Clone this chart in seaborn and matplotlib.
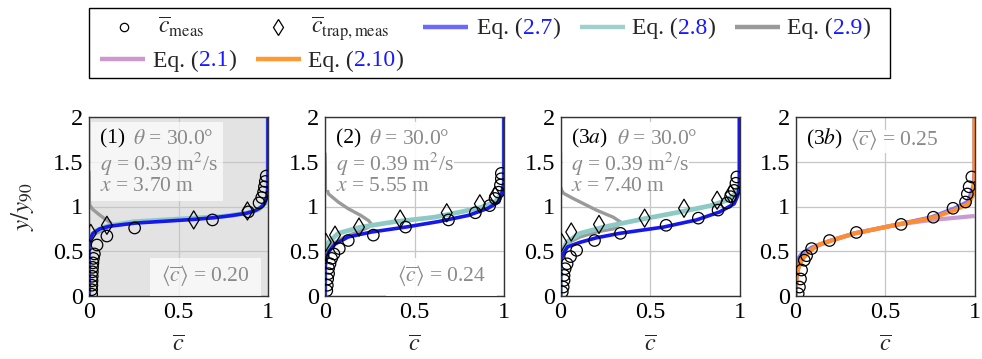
import matplotlib
matplotlib.use("Agg")
import matplotlib.pyplot as plt
import seaborn as sns
from matplotlib.patches import Rectangle
from matplotlib.lines import Line2D

# ---------------- data ----------------
X_TICKS = [0, 0.5, 1]
X_TICK_LABELS = ["0", "0.5", "1"]
Y_TICKS = [0, 0.5, 1, 1.5, 2]
Y_TICK_LABELS = ["0", "0.5", "1", "1.5", "2"]

PANEL_IDS = ["(1)", "(2)", "(3$a$)", "(3$b$)"]
THETA = ["30.0", "30.0", "30.0"]
Q = ["0.39", "0.39", "0.39"]
XPOS = ["3.70", "5.55", "7.40"]
C_MEAN = ["0.20", "0.24", None, "0.25"]

# panel 1
P1_BLUE_C = [0, 0, 0.005, 0.022, 0.06, 0.115, 0.26, 0.42, 0.58, 0.70, 0.80, 0.88, 0.93, 0.96, 0.98, 0.995, 1.0, 1.0]
P1_BLUE_Y = [0, 0.55, 0.63, 0.70, 0.75, 0.78, 0.815, 0.835, 0.855, 0.875, 0.90, 0.925, 0.955, 0.99, 1.03, 1.12, 1.25, 2.0]
P1_TEAL_C = [0, 0, 0.01, 0.04, 0.10, 0.25, 0.50, 0.75, 0.88, 0.95, 0.985, 1.0, 1.0]
P1_TEAL_Y = [0, 0.58, 0.66, 0.73, 0.78, 0.83, 0.86, 0.89, 0.925, 0.97, 1.04, 1.15, 2.0]
P1_GRAY_C = [0, 0.003, 0.02, 0.05, 0.09, 0.12, 0.128, 0.115, 0.08, 0.04, 0.015, 0]
P1_GRAY_Y = [1.4, 1.02, 0.97, 0.92, 0.86, 0.82, 0.80, 0.77, 0.74, 0.70, 0.66, 0.60]
P1_CIRC_C = [0.015, 0.015, 0.016, 0.017, 0.018, 0.019, 0.02, 0.022, 0.025, 0.03, 0.045, 0.10, 0.255, 0.69, 0.89, 0.95, 0.965, 0.975, 0.98, 0.985, 0.99]
P1_CIRC_Y = [0.02, 0.07, 0.12, 0.17, 0.22, 0.27, 0.32, 0.37, 0.42, 0.47, 0.57, 0.67, 0.76, 0.85, 0.94, 1.04, 1.10, 1.16, 1.22, 1.28, 1.34]
P1_DIAM_C = [0.01, 0.10, 0.585, 0.885]
P1_DIAM_Y = [0.70, 0.79, 0.85, 0.95]

# panel 2
P2_BLUE_C = [0, 0, 0.004, 0.019, 0.056, 0.13, 0.26, 0.45, 0.63, 0.80, 0.91, 0.97, 0.99, 1.0, 1.0]
P2_BLUE_Y = [0, 0.30, 0.38, 0.49, 0.58, 0.66, 0.715, 0.77, 0.83, 0.90, 0.98, 1.05, 1.16, 1.27, 2.0]
P2_TEAL_C = [0, 0, 0.02, 0.074, 0.20, 0.39, 0.61, 0.76, 0.87, 0.95, 0.985, 1.0, 1.0]
P2_TEAL_Y = [0, 0.45, 0.60, 0.70, 0.77, 0.83, 0.88, 0.94, 0.99, 1.05, 1.14, 1.24, 2.0]
P2_GRAY_C = [0, 0.004, 0.02, 0.074, 0.13, 0.20, 0.245, 0.26, 0.24, 0.20, 0.11, 0.04, 0]
P2_GRAY_Y = [1.6, 1.24, 1.14, 1.05, 0.975, 0.90, 0.84, 0.80, 0.765, 0.73, 0.66, 0.58, 0.49]
P2_CIRC_C = [0.01, 0.013, 0.015, 0.02, 0.02, 0.028, 0.037, 0.05, 0.08, 0.13, 0.27, 0.45, 0.69, 0.84, 0.92, 0.95, 0.97, 0.98, 0.985, 0.985]
P2_CIRC_Y = [0.06, 0.12, 0.19, 0.25, 0.31, 0.36, 0.42, 0.47, 0.53, 0.62, 0.68, 0.77, 0.85, 0.93, 1.01, 1.09, 1.16, 1.24, 1.31, 1.37]
P2_DIAM_C = [0.004, 0.056, 0.19, 0.42, 0.68, 0.865, 0.95]
P2_DIAM_Y = [0.60, 0.68, 0.77, 0.86, 0.93, 1.03, 1.12]

# panel 3
P3_BLUE_C = [0, 0, 0.015, 0.04, 0.11, 0.20, 0.33, 0.575, 0.76, 0.89, 0.97, 0.99, 1.0, 1.0]
P3_BLUE_Y = [0, 0.38, 0.47, 0.55, 0.60, 0.65, 0.70, 0.77, 0.85, 0.94, 1.03, 1.12, 1.24, 2.0]
P3_TEAL_C = [0, 0, 0.034, 0.11, 0.24, 0.46, 0.67, 0.84, 0.93, 0.975, 1.0, 1.0]
P3_TEAL_Y = [0, 0.45, 0.60, 0.70, 0.77, 0.86, 0.94, 1.01, 1.07, 1.14, 1.24, 2.0]
P3_GRAY_C = [0, 0.0, 0.015, 0.07, 0.20, 0.295, 0.34, 0.295, 0.20, 0.11, 0.034, 0]
P3_GRAY_Y = [1.6, 1.22, 1.15, 1.09, 0.96, 0.88, 0.82, 0.75, 0.715, 0.66, 0.585, 0.49]
P3_CIRC_C = [0.01, 0.015, 0.02, 0.02, 0.026, 0.037, 0.056, 0.09, 0.19, 0.335, 0.59, 0.77, 0.88, 0.93, 0.95, 0.97, 0.98, 0.985]
P3_CIRC_Y = [0.045, 0.10, 0.175, 0.23, 0.305, 0.36, 0.44, 0.51, 0.62, 0.70, 0.79, 0.87, 0.96, 1.04, 1.11, 1.18, 1.26, 1.33]
P3_DIAM_C = [0.005, 0.06, 0.215, 0.47, 0.69, 0.875, 0.95]
P3_DIAM_Y = [0.60, 0.715, 0.80, 0.87, 0.98, 1.07, 1.14]

# panel 4
P4_BLUE_C = [0, 0, 0.01, 0.034, 0.09, 0.20, 0.33, 0.575, 0.76, 0.89, 0.96, 0.98, 0.995, 1.0, 1.0]
P4_BLUE_Y = [0, 0.30, 0.40, 0.47, 0.54, 0.62, 0.70, 0.80, 0.88, 0.98, 1.05, 1.14, 1.24, 1.39, 2.0]
P4_PURP_C = [0, 0.006, 0.015, 0.034, 0.07, 0.127, 0.20, 0.33, 0.575, 0.76, 0.90, 1.0]
P4_PURP_Y = [0.0, 0.19, 0.305, 0.40, 0.49, 0.57, 0.62, 0.70, 0.80, 0.85, 0.875, 0.894]
P4_ORNG_C = [0, 0.006, 0.015, 0.034, 0.07, 0.127, 0.20, 0.33, 0.575, 0.76, 0.89, 0.966, 0.99, 1.0, 1.0]
P4_ORNG_Y = [0.0, 0.19, 0.305, 0.40, 0.49, 0.57, 0.62, 0.70, 0.80, 0.87, 0.96, 1.03, 1.12, 1.27, 2.0]
P4_CIRC_C = [0.015, 0.022, 0.028, 0.034, 0.049, 0.062, 0.09, 0.19, 0.34, 0.59, 0.77, 0.88, 0.95, 0.96, 0.97, 0.985]
P4_CIRC_Y = [0.026, 0.10, 0.19, 0.29, 0.40, 0.45, 0.53, 0.62, 0.71, 0.80, 0.88, 0.98, 1.05, 1.14, 1.22, 1.33]

# ---------------- style ----------------
sns.set_theme(style="white")
plt.rcParams["font.family"] = ["Liberation Serif", "DejaVu Serif"]
plt.rcParams["mathtext.fontset"] = "stix"

BLUE = "#1616ee"
BLUE_LIGHT = "#7a7aff"
TEAL = "#8ecac4"
GRAY = "#9a9a9a"
PURPLE = "#c99bd1"
ORANGE = "#ff8c2e"
TXT_GRAY = "#8a8a8a"
EQ_BLUE = "#1a1aff"

W, H = 982, 359
fig = plt.figure(figsize=(W / 100, H / 100), dpi=100)

AX_LEFT = [89, 325, 560.5, 795.5]
AX_W, AX_TOP, AX_BOT = 179, 117, 296
FS_TICK = 17.5

def line(ax, c, y, color, lw, z):
    sns.lineplot(x=c, y=y, sort=False, estimator=None, color=color, lw=lw, ax=ax,
                 zorder=z, legend=False, solid_capstyle="butt")

def markers(ax, c, y, m, s):
    sns.scatterplot(x=c, y=y, marker=m, s=s, facecolors="none", edgecolor="black",
                    linewidth=0.9, ax=ax, zorder=6, legend=False)

def box(ax, x0, x1, y0, y1, alpha=0.8):
    ax.add_patch(Rectangle((x0, y0), x1 - x0, y1 - y0, facecolor="white",
                           edgecolor="none", alpha=alpha, zorder=3))

axes = []
for i, lx in enumerate(AX_LEFT):
    ax = fig.add_axes([lx / W, 1 - AX_BOT / H, AX_W / W, (AX_BOT - AX_TOP) / H])
    axes.append(ax)
    ax.set_xlim(0, 1)
    ax.set_ylim(0, 2)
    ax.set_xticks(X_TICKS)
    ax.set_xticklabels(X_TICK_LABELS)
    ax.set_yticks(Y_TICKS)
    ax.set_yticklabels(Y_TICK_LABELS)
    ax.tick_params(length=0, labelsize=FS_TICK, pad=4, colors="black")
    ax.grid(True, color="#c6c6c6", lw=0.9)
    ax.set_axisbelow(True)
    for s in ax.spines.values():
        s.set_color("#333333")
        s.set_linewidth(1.0)
    ax.set_xlabel(r"$\overline{c}$", fontsize=17.5, labelpad=9)
    ax.set_ylabel("")

axes[0].set_facecolor("#e3e3e3")
axes[0].set_ylabel(r"$y/y_{90}$", fontsize=18, labelpad=12)

# panel 1
ax = axes[0]
line(ax, P1_GRAY_C, P1_GRAY_Y, GRAY, 2.4, 2)
line(ax, P1_TEAL_C, P1_TEAL_Y, TEAL, 3.4, 2.1)
line(ax, P1_BLUE_C, P1_BLUE_Y, BLUE, 2.6, 2.2)
markers(ax, P1_DIAM_C, P1_DIAM_Y, "d", 85)
markers(ax, P1_CIRC_C, P1_CIRC_Y, "o", 68)

# panel 2
ax = axes[1]
line(ax, P2_GRAY_C, P2_GRAY_Y, GRAY, 2.4, 2)
line(ax, P2_TEAL_C, P2_TEAL_Y, TEAL, 3.4, 2.1)
line(ax, P2_BLUE_C, P2_BLUE_Y, BLUE, 2.6, 2.2)
markers(ax, P2_DIAM_C, P2_DIAM_Y, "d", 85)
markers(ax, P2_CIRC_C, P2_CIRC_Y, "o", 68)

# panel 3
ax = axes[2]
line(ax, P3_GRAY_C, P3_GRAY_Y, GRAY, 2.4, 2)
line(ax, P3_TEAL_C, P3_TEAL_Y, TEAL, 3.4, 2.1)
line(ax, P3_BLUE_C, P3_BLUE_Y, BLUE, 2.6, 2.2)
markers(ax, P3_DIAM_C, P3_DIAM_Y, "d", 85)
markers(ax, P3_CIRC_C, P3_CIRC_Y, "o", 68)

# panel 4
ax = axes[3]
line(ax, P4_BLUE_C, P4_BLUE_Y, BLUE_LIGHT, 3.0, 2)
line(ax, P4_PURP_C, P4_PURP_Y, PURPLE, 3.0, 2.1)
line(ax, P4_ORNG_C, P4_ORNG_Y, ORANGE, 3.0, 2.2)
markers(ax, P4_CIRC_C, P4_CIRC_Y, "o", 68)

# ---------------- annotation boxes & texts ----------------
FS_T = 15.5
for i in range(3):
    ax = axes[i]
    box(ax, 0.013, 0.75 if i == 0 else 0.72, 1.06 if i == 0 else 1.18, 1.94,
        alpha=0.7 if i == 0 else 0.9)
    t = ax.text(0.06, 1.70, PANEL_IDS[i], fontsize=FS_T, color="black", zorder=4,
                va="baseline", ha="left")
    ax.annotate(r"$\theta$ = " + THETA[i] + "°", xy=(1, 1.70), xycoords=(t, "data"),
                xytext=(6, 0), textcoords="offset points", fontsize=FS_T,
                color=TXT_GRAY, va="baseline", ha="left", zorder=4)
    ax.text(0.06, 1.40, r"$q$ = " + Q[i] + r" m$^2$/s", fontsize=FS_T, color=TXT_GRAY,
            va="baseline", ha="left", zorder=4)
    ax.text(0.06, 1.175, r"$x$ = " + XPOS[i] + " m", fontsize=FS_T, color=TXT_GRAY,
            va="baseline", ha="left", zorder=4)
    if C_MEAN[i] is not None:
        box(ax, 0.34, 0.96, -0.02, 0.42, alpha=0.7 if i == 0 else 0.9)
        ax.text(0.40, 0.17, r"$\langle\overline{c}\rangle$ = " + C_MEAN[i], fontsize=FS_T,
                color=TXT_GRAY, va="baseline", ha="left", zorder=4)

ax = axes[3]
box(ax, 0.015, 0.82, 1.60, 1.86, alpha=0.9)
t = ax.text(0.06, 1.69, PANEL_IDS[3], fontsize=FS_T, color="black", zorder=4,
            va="baseline", ha="left")
ax.annotate(r"$\langle\overline{c}\rangle$ = " + C_MEAN[3], xy=(1, 1.69),
            xycoords=(t, "data"), xytext=(5, 0), textcoords="offset points",
            fontsize=FS_T, color=TXT_GRAY, va="baseline", ha="left", zorder=4)

# ---------------- legend (manual, multi-coloured labels) ----------------
lax = fig.add_axes([0, 0, 1, 1], zorder=-1)
lax.set_xlim(0, W)
lax.set_ylim(H, 0)
lax.axis("off")
lax.patch.set_alpha(0)
lax.add_patch(Rectangle((89, 8), 801, 70, facecolor="white", edgecolor="black", lw=1.0))

FS_L = 17
R1, R2 = 27, 59          # handle centres
B1, B2 = 34, 66.5        # text baselines

lax.plot([124], [R1], marker="o", ms=6, mfc="none", mec="black", mew=0.9, ls="none")
lax.text(158, B1, r"$\overline{c}_{\mathrm{meas}}$", fontsize=FS_L, va="baseline")
lax.plot([278], [R1], marker="d", ms=8, mfc="none", mec="black", mew=0.9, ls="none")
lax.text(311, B1, r"$\overline{c}_{\mathrm{trap,meas}}$", fontsize=FS_L, va="baseline")

def eq_entry(x0, xr, yc, yb, color, num):
    lax.add_line(Line2D([x0, x0 + 45], [yc, yc], color=color, lw=3.2, solid_capstyle="butt"))
    t1 = lax.text(xr, yb, "Eq. (", fontsize=FS_L, va="baseline", ha="left")
    t2 = lax.annotate(num, xy=(1, yb), xycoords=(t1, "data"), fontsize=FS_L,
                      va="baseline", ha="left", color=EQ_BLUE)
    lax.annotate(")", xy=(1, yb), xycoords=(t2, "data"), fontsize=FS_L,
                 va="baseline", ha="left")

eq_entry(423, 477, R1, B1, "#6a6aff", "2.7")
eq_entry(580, 632, R1, B1, "#9fd0cc", "2.8")
eq_entry(735, 787, R1, B1, "#9a9a9a", "2.9")
eq_entry(100, 153, R2, B2, "#cc99cc", "2.1")
eq_entry(256, 308, R2, B2, "#ff9933", "2.10")

fig.savefig("out.png", dpi=100)
